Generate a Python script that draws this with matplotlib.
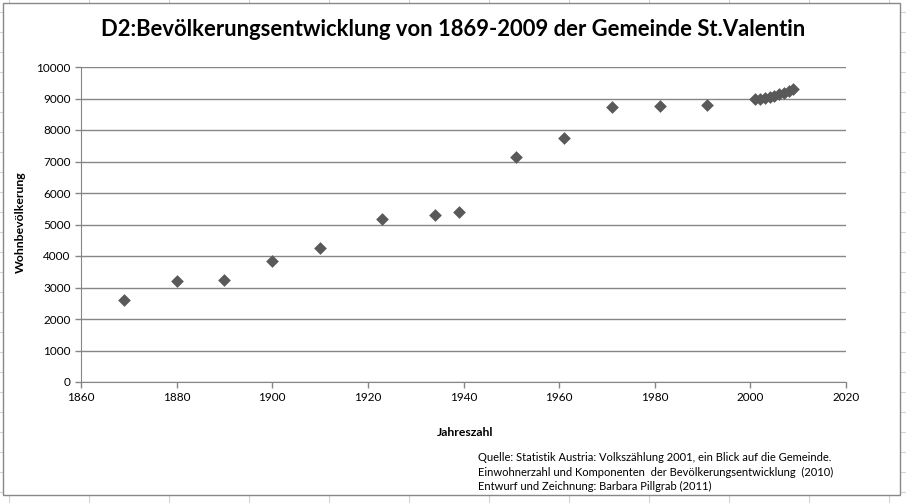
import matplotlib.pyplot as plt
import numpy as np

# Bevoelkerung St.Valentin, 1869-2009
jahre = [1869, 1880, 1890, 1900, 1910, 1923, 1934, 1939, 1951, 1961, 1971, 1981, 1991,
         2001, 2002, 2003, 2004, 2005, 2006, 2007, 2008, 2009]
einwohner = [2600, 3210, 3230, 3840, 4260, 5170, 5300, 5400, 7140, 7740, 8720, 8760, 8790,
             8980, 9000, 9020, 9040, 9080, 9130, 9180, 9230, 9290]

x_ticks = np.arange(1860, 2021, 20)
y_ticks = np.arange(0, 10001, 1000)

title = "D2:Bevölkerungsentwicklung von 1869-2009 der Gemeinde St.Valentin"
quelle = ("Quelle: Statistik Austria: Volkszählung 2001, ein Blick auf die Gemeinde.\n"
          "Einwohnerzahl und Komponenten  der Bevölkerungsentwicklung  (2010)\n"
          "Entwurf und Zeichnung: Barbara Pillgrab (2011)")

plt.rcParams['font.family'] = ['Lato', 'DejaVu Sans']

W, H = 906, 503
fig = plt.figure(figsize=(W / 100, H / 100), dpi=100)

# spreadsheet grid behind the chart
bg = fig.add_axes([0, 0, 1, 1])
bg.set_xlim(0, W)
bg.set_ylim(H, 0)
bg.axis("off")
for gx in range(9, W, 80):
    bg.axvline(gx, color="#d4d4d4", lw=0.8, zorder=1)
for gy in range(12, H, 20):
    bg.axhline(gy, color="#d4d4d4", lw=0.8, zorder=1)
bg.add_patch(plt.Rectangle((3, 3), 897, 492, facecolor="white", edgecolor="#888888",
                           lw=1, zorder=5))

ax = fig.add_axes([81 / W, (H - 382) / H, 765 / W, 315 / H])
ax.set_facecolor("none")
ax.scatter(jahre, einwohner, marker="D", s=42, color="#595959", zorder=3, linewidths=0)

ax.set_xlim(1860, 2020)
ax.set_ylim(0, 10000)
ax.set_xticks(x_ticks)
ax.set_yticks(y_ticks)
ax.tick_params(labelsize=8.5, color="#868686", length=4, width=1)
ax.grid(axis="y", color="#868686", lw=1)
ax.set_axisbelow(True)
for s in ["top", "right"]:
    ax.spines[s].set_visible(False)
for s in ["left", "bottom"]:
    ax.spines[s].set_color("#868686")

fig.text(453 / W, 1 - 30 / H, title, ha="center", va="center", fontsize=15.8, fontweight="bold")
fig.text(20 / W, 1 - 222 / H, "Wohnbevölkerung", rotation=90, ha="center", va="center",
         fontsize=8.8, fontweight="bold")
fig.text(465 / W, 1 - 433 / H, "Jahreszahl", ha="center", va="center", fontsize=8.8,
         fontweight="bold")
fig.text(478 / W, 1 - 452 / H, quelle, ha="left", va="top", fontsize=8.0, linespacing=1.4)

fig.savefig("out.png", dpi=100)
